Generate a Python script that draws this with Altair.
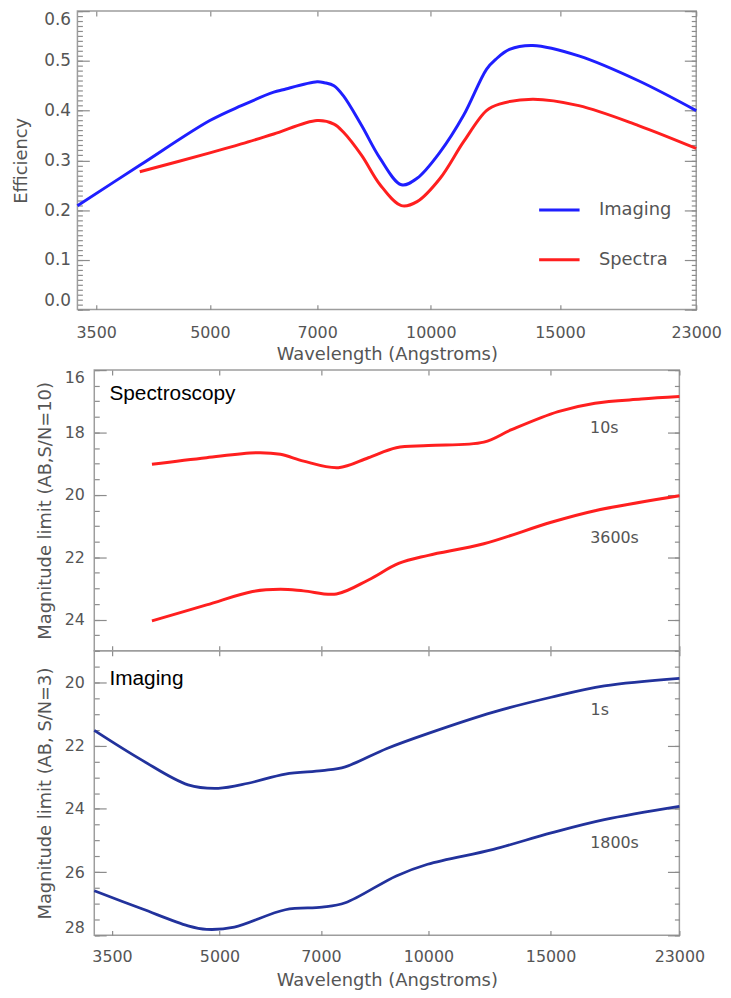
import altair as alt
import pandas as pd

# ---------------- data ----------------
# Top panel: efficiency
eff_img_wl = [3300, 4013, 5000, 5520, 6110, 6292, 7000, 7168, 7380, 7600, 8050, 8530, 9120, 9580,
              10300, 11080, 11910, 12260, 12800, 13770, 15910, 19190, 23000]
eff_img = [0.209, 0.290, 0.380, 0.410, 0.437, 0.442, 0.458, 0.456, 0.450, 0.430, 0.370, 0.304, 0.251, 0.264,
           0.317, 0.390, 0.483, 0.503, 0.523, 0.531, 0.510, 0.460, 0.400]
eff_spec_wl = [4013, 5000, 5520, 6110, 7000, 7380, 7600, 8050, 8530, 9120, 9580, 10300, 11080, 11910,
               12400, 13770, 15910, 19190, 23000]
eff_spec = [0.277, 0.315, 0.333, 0.353, 0.380, 0.373, 0.357, 0.310, 0.251, 0.209, 0.217, 0.264, 0.337, 0.400,
            0.413, 0.423, 0.410, 0.370, 0.324]

# Middle panel: spectroscopy magnitude limits
spec10_wl = [3996, 4790, 5670, 6120, 6610, 7420, 8195, 8990, 10000, 12020, 13180, 15380, 17380, 20260, 23000]
spec10 = [19.02, 18.81, 18.65, 18.70, 18.92, 19.13, 18.81, 18.49, 18.42, 18.31, 17.91, 17.33, 17.06, 16.93, 16.85]
spec3600_wl = [3996, 4790, 5580, 6120, 6610, 7370, 8195, 9060, 10000, 12020, 15030, 17380, 23000]
spec3600 = [24.04, 23.53, 23.10, 23.03, 23.08, 23.18, 22.73, 22.20, 21.94, 21.57, 20.88, 20.51, 20.03]

# Bottom panel: imaging magnitude limits
img1_wl = [3300, 3865, 4505, 4980, 5500, 6220, 7030, 7590, 8715, 9975, 12410, 15030, 17930, 23000]
img1 = [21.52, 22.46, 23.24, 23.35, 23.19, 22.90, 22.79, 22.67, 22.09, 21.62, 20.94, 20.47, 20.11, 19.87]
img1800_wl = [3300, 3865, 4505, 4790, 5253, 6220, 7030, 7590, 8990, 9975, 12410, 15030, 17930, 23000]
img1800 = [26.59, 27.16, 27.70, 27.81, 27.74, 27.19, 27.11, 26.97, 26.12, 25.75, 25.28, 24.76, 24.34, 23.92]

# tick labels
x_ticks = [3500, 5000, 7000, 10000, 15000, 23000]
eff_ticks = [0.0, 0.1, 0.2, 0.3, 0.4, 0.5, 0.6]
eff_minor = [round(i * 0.01, 2) for i in range(61)]
spec_ticks = [16, 18, 20, 22, 24]
spec_minor = [16 + 0.5 * i for i in range(19)]
img_ticks = [20, 22, 24, 26, 28]
img_minor = [19 + 0.5 * i for i in range(19)]

# legend (top panel) and annotations
legend_names = ["Imaging", "Spectra"]
legend_wl1 = [14050, 14050]
legend_wl2 = [15950, 15950]
legend_text_wl = [16950, 16950]
legend_val = [0.2, 0.1]

spec_notes = ["10s", "3600s"]
spec_notes_wl = [17930, 18550]
spec_notes_mag = [17.85, 21.38]
img_notes = ["1s", "1800s"]
img_notes_wl = [17660, 18550]
img_notes_mag = [20.87, 25.07]

BLUE = "#1f1fff"
RED = "#ff1f1f"
NAVY = "#22329c"
GREY = "#555555"
TICK = "#8c8c8c"
CURVE = "catmull-rom"

xscale = alt.Scale(type="log", domain=[3300, 23000], nice=False)
yscale_top = alt.Scale(domain=[0, 0.6], nice=False, zero=False)
yscale_mid = alt.Scale(domain=[16, 25], nice=False, zero=False, reverse=True)
yscale_bot = alt.Scale(domain=[19, 28], nice=False, zero=False, reverse=True)

AX = dict(grid=False, domain=False, tickColor=TICK, tickWidth=1.2,
          labelColor=GREY, labelFont="DejaVu Sans",
          titleFont="DejaVu Sans", titleFontSize=18, titleFontWeight="normal", titleColor=GREY)


def ax_layer(xv, yv, yscale, xaxis=None, yaxis=None):
    d = pd.DataFrame({"wl": [xv], "val": [yv]})
    return alt.Chart(d).mark_point(opacity=0).encode(
        x=alt.X("wl:Q", scale=xscale, axis=xaxis),
        y=alt.Y("val:Q", scale=yscale, axis=yaxis),
    )


def y_axes(yscale, yv, major, minor, fmt, title, lpad, tpad, fsize):
    return [
        ax_layer(5000, yv, yscale, yaxis=alt.Axis(orient="left", values=major, format=fmt, tickSize=12,
                                                  offset=-12, labelPadding=lpad, labelFlush=True,
                                                  labelFontSize=fsize,
                                                  title=title, titlePadding=tpad, **AX)),
        ax_layer(5000, yv, yscale, yaxis=alt.Axis(orient="left", values=minor, tickSize=5, offset=-5,
                                                  labels=False, title=None, **AX)),
        ax_layer(5000, yv, yscale, yaxis=alt.Axis(orient="right", values=major, tickSize=12, offset=-12,
                                                  labels=False, title=None, **AX)),
        ax_layer(5000, yv, yscale, yaxis=alt.Axis(orient="right", values=minor, tickSize=5, offset=-5,
                                                  labels=False, title=None, **AX)),
    ]


def x_axes(yscale, yv, labelled, lpad=11, tpad=4, fsize=16):
    if labelled:
        bottom = alt.Axis(orient="bottom", values=x_ticks, format="d", tickSize=5, offset=-5,
                          labelPadding=lpad, labelFlush=False, labelFontSize=fsize,
                          title="Wavelength (Angstroms)", titlePadding=tpad, **AX)
    else:
        bottom = alt.Axis(orient="bottom", values=x_ticks, tickSize=5, offset=-5, labels=False,
                          title=None, **AX)
    top = alt.Axis(orient="top", values=x_ticks, tickSize=5, offset=-5, labels=False, title=None, **AX)
    return [ax_layer(5000, yv, yscale, xaxis=bottom), ax_layer(5000, yv, yscale, xaxis=top)]


def line(wl, vals, yscale, color, width):
    d = pd.DataFrame({"wl": wl, "val": vals})
    return alt.Chart(d).mark_line(interpolate=CURVE, strokeWidth=width, color=color).encode(
        x=alt.X("wl:Q", scale=xscale, axis=None),
        y=alt.Y("val:Q", scale=yscale, axis=None),
    )


def notes(names, wls, vals, yscale, size=16, color=GREY, font="DejaVu Sans", align="center",
          baseline="middle"):
    d = pd.DataFrame({"wl": wls, "val": vals, "txt": names})
    return alt.Chart(d).mark_text(align=align, baseline=baseline, font=font, fontSize=size,
                                  color=color).encode(
        x=alt.X("wl:Q", scale=xscale, axis=None),
        y=alt.Y("val:Q", scale=yscale, axis=None),
        text="txt:N",
    )


def legend_line(i, color):
    d = pd.DataFrame({"wl": [legend_wl1[i]], "wl2": [legend_wl2[i]], "val": [legend_val[i]]})
    return alt.Chart(d).mark_rule(strokeWidth=3, color=color).encode(
        x=alt.X("wl:Q", scale=xscale, axis=None),
        x2="wl2:Q",
        y=alt.Y("val:Q", scale=yscale_top, axis=None),
    )


# ---------------- top panel ----------------
top = alt.layer(
    line(eff_img_wl, eff_img, yscale_top, BLUE, 3),
    line(eff_spec_wl, eff_spec, yscale_top, RED, 3),
    legend_line(0, BLUE),
    legend_line(1, RED),
    notes(legend_names, legend_text_wl, legend_val, yscale_top, size=18, align="left"),
    *y_axes(yscale_top, 0.3, eff_ticks, eff_minor, ".1f", "Efficiency", 7, 13, 17),
    *x_axes(yscale_top, 0.3, True, 15, 5, 16),
).resolve_axis(x="independent", y="independent").properties(width=624, height=301)

# ---------------- spacer between top and middle panels ----------------
spacer = alt.Chart(pd.DataFrame({"wl": [5000], "val": [0.3]})).mark_point(opacity=0).encode(
    x=alt.X("wl:Q", scale=xscale, axis=None),
    y=alt.Y("val:Q", scale=yscale_top, axis=None),
).properties(width=590, height=61, view=alt.ViewBackground(stroke="transparent"))

# ---------------- middle panel ----------------
mid = alt.layer(
    line(spec10_wl, spec10, yscale_mid, RED, 3),
    line(spec3600_wl, spec3600, yscale_mid, RED, 3),
    notes(spec_notes, spec_notes_wl, spec_notes_mag, yscale_mid, size=16),
    notes(["Spectroscopy"], [3470], [16.95], yscale_mid, size=21, color="#000000",
          font="Liberation Sans", align="left", baseline="alphabetic"),
    *y_axes(yscale_mid, 20, spec_ticks, spec_minor, "d", "Magnitude limit (AB,S/N=10)", 10, 10, 16),
    *x_axes(yscale_mid, 20, False),
).resolve_axis(x="independent", y="independent").properties(width=590, height=283)

# ---------------- bottom panel ----------------
bot = alt.layer(
    line(img1_wl, img1, yscale_bot, NAVY, 2.8),
    line(img1800_wl, img1800, yscale_bot, NAVY, 2.8),
    notes(img_notes, img_notes_wl, img_notes_mag, yscale_bot, size=16),
    notes(["Imaging"], [3470], [20.08], yscale_bot, size=21, color="#000000",
          font="Liberation Sans", align="left", baseline="alphabetic"),
    *y_axes(yscale_bot, 24, img_ticks, img_minor, "d", "Magnitude limit (AB, S/N=3)", 10, 10, 16),
    *x_axes(yscale_bot, 24, True, 13, 8, 16),
).resolve_axis(x="independent", y="independent").properties(width=590, height=287)

chart = alt.vconcat(top, spacer, mid, bot, spacing=0, bounds="flush", center=True).properties(
    padding={"left": 4, "top": -3, "right": 0, "bottom": 0},
    background="white",
).configure_view(stroke="#9d9d9d", strokeWidth=1.5)

chart.save("out.html", embed_options={"renderer": "svg", "actions": False})
